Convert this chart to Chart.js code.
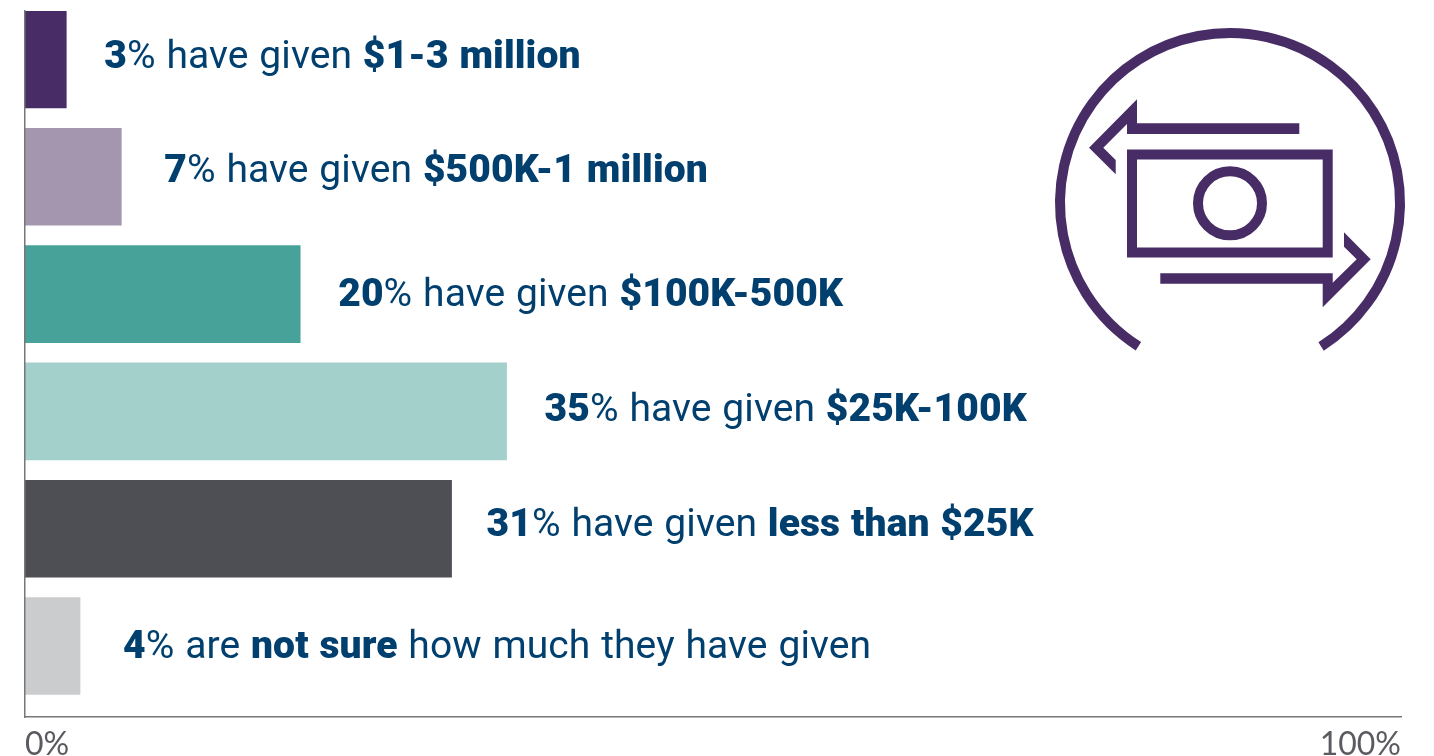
<!DOCTYPE html>
<html>
<head>
<meta charset="utf-8">
<style>
  html, body { margin: 0; padding: 0; background: #fff; overflow: hidden; }
  canvas { display: block; }
</style>
<script src="https://cdn.jsdelivr.net/npm/chart.js@4"></script>
</head>
<body>
<canvas id="chart" width="1434" height="756"></canvas>
<script>
const categories = ['$1-3 million', '$500K-1 million', '$100K-500K', '$25K-100K', 'less than $25K', 'not sure'];
const values = [3, 7, 20, 35, 31, 4];
const xTickValues = [0, 100];
const xTickLabels = ['0%', '100%'];
const barColors = ['#472c65', '#a596b0', '#47a39a', '#a3d0cb', '#4e4f54', '#cbcccd'];

// Each label is a run of [text, isBold] pieces
const labelParts = [
  [['3', true], ['% have given ', false], ['$1-3 million', true]],
  [['7', true], ['% have given ', false], ['$500K-1 million', true]],
  [['20', true], ['% have given ', false], ['$100K-500K', true]],
  [['35', true], ['% have given ', false], ['$25K-100K', true]],
  [['31', true], ['% have given ', false], ['less than $25K', true]],
  [['4', true], ['% are ', false], ['not sure', true], [' how much they have given', false]]
];

// Label placement relative to the end of each bar and its centre line
const labelGaps = [38, 43, 38, 38, 35, 43];
const labelShifts = [8.5, 5, 11.5, 9.5, 7.5, 11.5];

const TEXT_COLOR = '#003f6e';
const ICON_COLOR = '#472c65';

const valueLabels = {
  id: 'valueLabels',
  afterDatasetsDraw(chart) {
    const { ctx, scales } = chart;
    ctx.save();
    ctx.fillStyle = TEXT_COLOR;
    ctx.textBaseline = 'alphabetic';
    ctx.letterSpacing = '0.1px';
    ctx.wordSpacing = '1px';
    labelParts.forEach((parts, i) => {
      let x = scales.x.getPixelForValue(values[i]) + labelGaps[i];
      const y = scales.y.getPixelForValue(i) + labelShifts[i];
      parts.forEach(([text, bold]) => {
        ctx.font = (bold ? '900 ' : '400 ') + '39px Roboto, "Liberation Sans", sans-serif';
        ctx.fillText(text, x, y);
        x += ctx.measureText(text).width;
      });
    });
    ctx.restore();
  }
};

// Banknote with two arrows inside an open ring
function fillPolygon(ctx, points) {
  ctx.beginPath();
  points.forEach(([x, y], i) => i ? ctx.lineTo(x, y) : ctx.moveTo(x, y));
  ctx.closePath();
  ctx.fill();
}

const moneyIcon = {
  id: 'moneyIcon',
  afterDraw(chart) {
    const ctx = chart.ctx;
    ctx.save();
    ctx.strokeStyle = ICON_COLOR;
    ctx.fillStyle = ICON_COLOR;
    ctx.lineWidth = 10;

    ctx.beginPath();
    ctx.arc(1230, 203, 170, 57.6 * Math.PI / 180, 122.6 * Math.PI / 180, true);
    ctx.stroke();

    ctx.strokeRect(1132, 154.5, 195.7, 98);

    ctx.beginPath();
    ctx.arc(1230, 203.3, 32, 0, Math.PI * 2);
    ctx.stroke();

    fillPolygon(ctx, [[1299.3, 123.3], [1137, 123.3], [1137, 99.3], [1089, 147.7], [1115.7, 174.3],
      [1115.7, 160], [1103.3, 147.7], [1127, 124], [1127, 134], [1299.3, 134]]);
    fillPolygon(ctx, [[1160.3, 273.3], [1332.7, 273.3], [1332.7, 282.7], [1356.7, 259.3], [1344, 246.7],
      [1344, 232.3], [1370.7, 259.3], [1322.7, 307.3], [1322.7, 283.7], [1160.3, 283.7]]);
    ctx.restore();
  }
};

new Chart(document.getElementById('chart'), {
  type: 'bar',
  data: {
    labels: categories,
    datasets: [{
      data: values.map((v, i) => ({ x: v, y: i })),
      backgroundColor: barColors,
      borderWidth: 0,
      barThickness: 97
    }]
  },
  options: {
    indexAxis: 'y',
    responsive: false,
    animation: false,
    layout: { padding: { left: 25, right: 33, top: 11, bottom: 0 } },
    plugins: { legend: { display: false }, tooltip: { enabled: false } },
    scales: {
      x: {
        type: 'linear',
        min: 0,
        max: 100,
        afterFit(scale) { scale.height = 39; },
        afterBuildTicks(scale) { scale.ticks = xTickValues.map(value => ({ value })); },
        grid: { display: false, drawTicks: false },
        border: { color: '#77777a', width: 1.5, z: 1 },
        ticks: {
          align: 'inner',
          maxRotation: 0,
          autoSkip: false,
          padding: 8,
          color: '#5a5b60',
          font: { family: 'Lato, sans-serif', size: 32 },
          callback: (value, index) => xTickLabels[index]
        }
      },
      y: {
        type: 'linear',
        reverse: true,
        offset: false,
        min: -0.413,
        max: 5.605,
        afterFit(scale) { scale.width = 0; },
        grid: { display: false, drawTicks: false },
        border: { color: '#77777a', width: 1.5, z: 1 },
        ticks: { display: false }
      }
    }
  },
  plugins: [valueLabels, moneyIcon]
});
</script>
</body>
</html>
